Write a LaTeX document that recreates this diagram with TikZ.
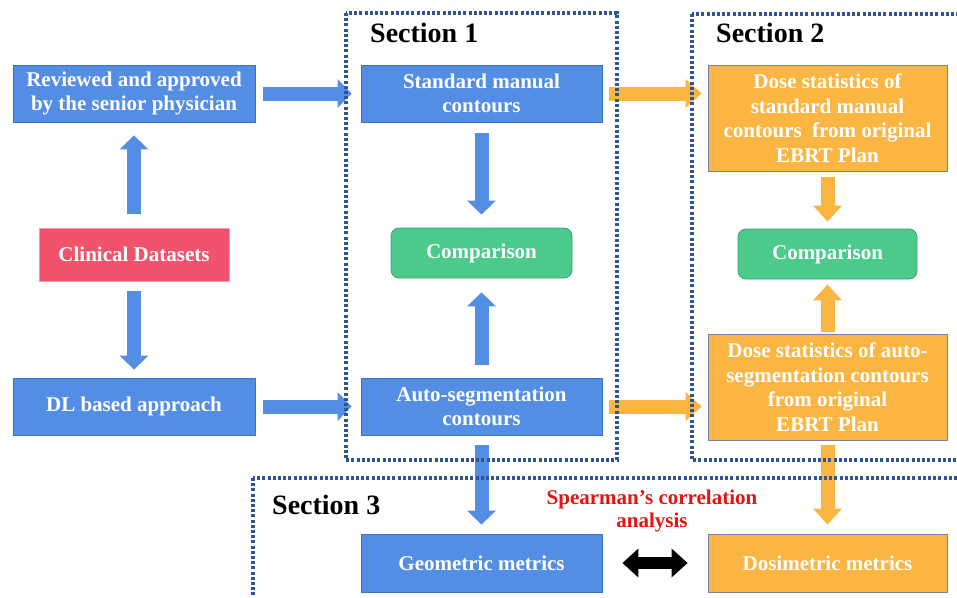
\documentclass[tikz,border=0pt]{standalone}
\usepackage{fontspec}
\setmainfont{Liberation Serif}
\usetikzlibrary{arrows.meta}
\definecolor{bblue}{RGB}{83,142,228}
\definecolor{bblueD}{RGB}{62,112,192}
\definecolor{borange}{RGB}{250,181,66}
\definecolor{borangeD}{RGB}{120,130,160}
\definecolor{bgreen}{RGB}{76,202,140}
\definecolor{bred}{RGB}{242,83,108}
\definecolor{bredD}{RGB}{250,150,165}
\definecolor{dotblue}{RGB}{47,85,151}
\definecolor{sred}{RGB}{232,18,18}
\begin{document}
\begin{tikzpicture}[x=1pt,y=-1pt,
  box/.style={rectangle, inner sep=0pt, align=center, text=white,
    font=\fontsize{21}{24.5}\selectfont\bfseries, line width=0.8pt},
  bluebox/.style={box, fill=bblue, draw=bblueD},
  orangebox/.style={box, fill=borange, draw=borangeD},
  greenbox/.style={box, fill=bgreen, draw=bgreen!80!black, rounded corners=8pt},
  redbox/.style={box, fill=bred, draw=bredD},
  sect/.style={draw=dotblue, line width=3.2pt, dash pattern=on 3pt off 2.2pt},
  seclabel/.style={anchor=base west, inner sep=0pt, font=\fontsize{28}{30}\selectfont\bfseries},
  barrow/.style={line width=14pt, draw=bblue, -{Triangle[width=28pt,length=14pt]}},
  oarrow/.style={line width=14pt, draw=borange, -{Triangle[width=28pt,length=16pt]}},
  darrow/.style={line width=12pt, draw=black, {Triangle[width=28pt,length=16pt]}-{Triangle[width=28pt,length=16pt]}}
]
\useasboundingbox (0,0) rectangle (957,597);
\clip (0,0) rectangle (957,597);

% boxes
\node[bluebox, minimum width=242pt, minimum height=57pt] (rev) at (134,93.5) {Reviewed and approved\\by the senior physician};
\node[redbox, minimum width=190pt, minimum height=53pt] (clin) at (134,254.5) {Clinical Datasets};
\node[bluebox, minimum width=242pt, minimum height=57pt] (dl) at (134,406.5) {DL based approach};

\node[bluebox, minimum width=241pt, minimum height=57pt] (std) at (481.5,93.5) {Standard manual\\contours};
\node[greenbox, minimum width=181pt, minimum height=50pt] (comp1) at (481.5,253) {Comparison};
\node[bluebox, minimum width=241pt, minimum height=57pt] (auto) at (481.5,406.5) {Auto-segmentation\\contours};

\node[orangebox, minimum width=239pt, minimum height=106pt] (dose1) at (827.5,118) {Dose statistics of\\standard manual\\contours\ \ from original\\EBRT Plan};
\node[greenbox, minimum width=179pt, minimum height=50pt] (comp2) at (827.5,254) {Comparison};
\node[orangebox, minimum width=239pt, minimum height=106pt] (dose2) at (827.5,387) {Dose statistics of auto-\\segmentation contours\\from original\\EBRT Plan};

\node[bluebox, minimum width=241pt, minimum height=58pt] (geo) at (481.5,563) {Geometric metrics};
\node[orangebox, minimum width=239pt, minimum height=58pt] (dosim) at (827.5,563) {Dosimetric metrics};

% arrows
\draw[barrow, shorten <=14pt, shorten >=13pt] (clin.north) -- (rev.south);
\draw[barrow, shorten <=10pt, shorten >=8pt] (clin.south) -- (dl.north);
\draw[barrow, shorten <=8pt, shorten >=9pt] (rev.east) -- (rev.east -| std.west);
\draw[barrow, shorten <=8pt, shorten >=9pt] (dl.east) -- (dl.east -| auto.west);
\draw[barrow, shorten <=11pt, shorten >=13pt] (std.south) -- (comp1.north);
\draw[barrow, shorten <=13pt, shorten >=14pt] (auto.north) -- (comp1.south);
\draw[barrow, shorten <=10pt, shorten >=9pt] (auto.south) -- (geo.north);

\draw[oarrow, shorten <=7pt, shorten >=6pt] (std.east) -- (std.east -| dose1.west);
\draw[oarrow, shorten <=7pt, shorten >=6pt] (auto.east) -- (auto.east -| dose2.west);
\draw[oarrow, shorten <=6pt, shorten >=7pt] (dose1.south) -- (comp2.north);
\draw[oarrow, shorten <=2pt, shorten >=5pt] (dose2.north) -- (comp2.south);
\draw[oarrow, shorten <=5pt, shorten >=9pt] (dose2.south) -- (dosim.north);

\draw[darrow, shorten <=20pt, shorten >=20pt] (geo.east) -- (dosim.west);

% section frames
\draw[sect] (346,13) rectangle (617,460);
\draw[sect] (692,14) rectangle (975,460);
\draw[sect] (253,478) rectangle (975,615);

\node[seclabel] (s1) at (370,42) {Section 1};
\node[seclabel] (s2) at (716,42) {Section 2};
\node[seclabel] (s3) at (272,514) {Section 3};

\node[align=center, text=sred, inner sep=0pt, font=\fontsize{21}{23.5}\selectfont\bfseries] (spear) at (652,511) {Spearman’s correlation\\analysis};
\end{tikzpicture}
\end{document}
